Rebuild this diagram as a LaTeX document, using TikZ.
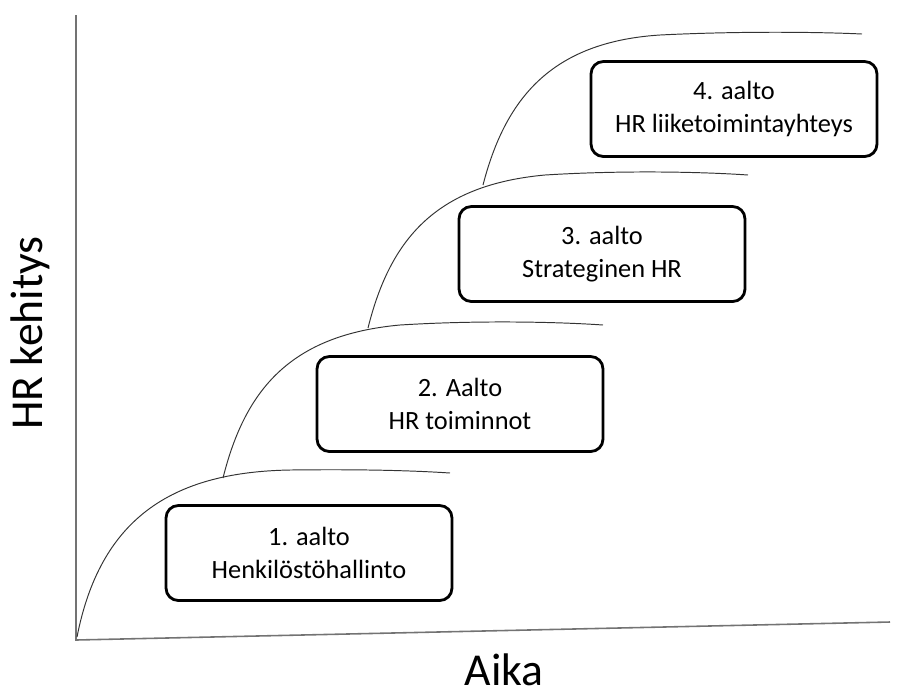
\documentclass[tikz,border=0pt]{standalone}
\usepackage{fontspec}
\setmainfont{Carlito}
\usetikzlibrary{positioning}
\usepackage{xcolor}

\tikzset{
  aaltobox/.style={draw=black, line width=1.6pt, fill=white, rounded corners=7pt,
    minimum width=5.72cm, minimum height=1.9cm, align=center,
    font=\fontsize{15}{18.5}\selectfont},
  akseli/.style={draw=black!55, line width=0.9pt},
  aalto/.style={draw=black!80, line width=0.55pt},
  otsikko/.style={font=\fontsize{26}{30}\selectfont}
}

\begin{document}
\begin{tikzpicture}[x=0.02cm, y=-0.02cm]
			\useasboundingbox (0,0) rectangle (906,698);

			% akselit
			\coordinate (origo) at (76,640);
			\coordinate (ylos) at (76,15);
			\coordinate (oikea) at (890,622);
			\draw[akseli] (ylos) -- (origo) -- (oikea);
			\node[otsikko, rotate=90] (ykentta) at (30,333) {HR kehitys};
			\node[otsikko] (xkentta) at (504,670) {Aika};

			% aallot
			\draw[aalto] (77,637) .. controls (100,520) and (170,472) .. (290,470)
				.. controls (370,469) and (420,471) .. (450,473);
			\draw[aalto] (223,478) .. controls (245,390) and (290,335) .. (400,325)
				.. controls (480,320) and (560,322) .. (603,325);
			\draw[aalto] (368,328) .. controls (390,240) and (435,185) .. (545,175)
				.. controls (625,170) and (705,172) .. (748,175);
			\draw[aalto] (483,185) .. controls (505,100) and (550,42) .. (660,35)
				.. controls (740,31) and (820,32) .. (862,34);

			% laatikot
			\node[aaltobox] (aalto1) at (309,553) {1. aalto\\Henkilöstöhallinto};
			\node[aaltobox] (aalto2) at (460,404) {2. Aalto\\HR toiminnot};
			\node[aaltobox] (aalto3) at (602,254) {3. aalto\\Strateginen HR};
			\node[aaltobox] (aalto4) at (734,109) {4. aalto\\HR liiketoimintayhteys};
		\end{tikzpicture}
\end{document}
